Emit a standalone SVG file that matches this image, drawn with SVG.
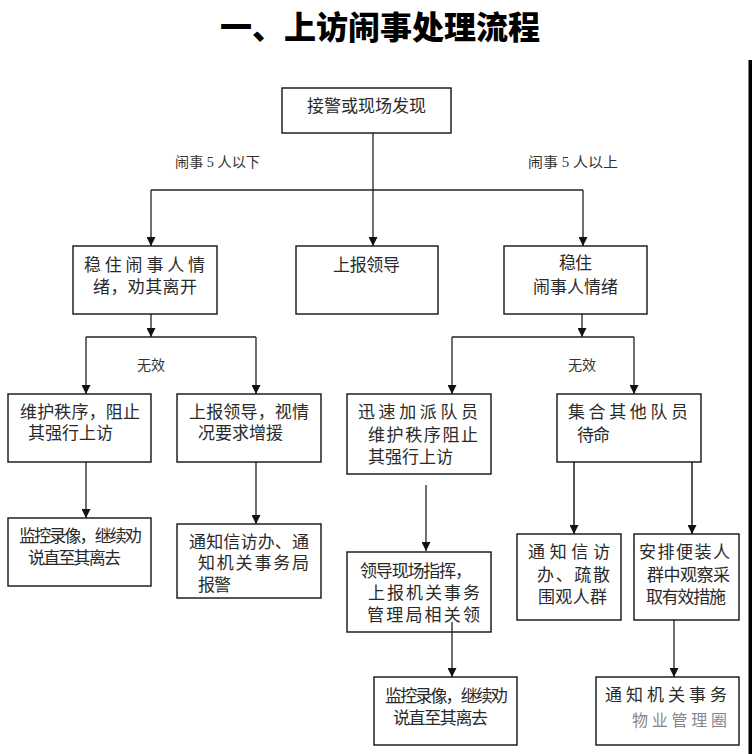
<svg xmlns="http://www.w3.org/2000/svg" width="752" height="754" viewBox="0 0 752 754">
<defs>
<style>
.bx{fill:#fff;stroke:#111;stroke-width:1.4}
.t{font-family:"Liberation Serif","Noto Sans CJK SC",serif;font-size:17px;fill:#2a2a2a}
.lb{font-family:"Liberation Serif","Noto Sans CJK SC",serif;font-size:14px;fill:#333}
.ttl{font-family:"Noto Sans CJK SC",sans-serif;font-size:32px;font-weight:900;fill:#000}
.c{fill:none;stroke:#222;stroke-width:1.3}
.cg{fill:none;stroke:#555;stroke-width:2}
.wm{font-family:"Noto Sans CJK SC",sans-serif;font-size:16px;fill:#888}
</style>
<marker id="ah" viewBox="0 0 10 10" refX="10" refY="5" markerWidth="9" markerHeight="9" markerUnits="userSpaceOnUse" orient="auto">
<path d="M0,0 L10,5 L0,10 Z" fill="#111"/>
</marker>
</defs>
<rect width="752" height="754" fill="#fff"/>
<rect x="748.5" y="60" width="3.5" height="694" fill="#000"/>
<text class="ttl" x="220" y="39" textLength="320" lengthAdjust="spacingAndGlyphs">一、上访闹事处理流程</text>

<g id="connectors">
<path class="c" d="M373,133 V246" marker-end="url(#ah)"/>
<path class="c" d="M151,190 H583"/>
<path class="c" d="M151,190 V246" marker-end="url(#ah)"/>
<path class="c" d="M583,190 V246" marker-end="url(#ah)"/>
<path class="c" d="M151,314 V337" marker-end="url(#ah)"/>
<path class="c" d="M86,337 H256"/>
<path class="c" d="M86,337 V394" marker-end="url(#ah)"/>
<path class="c" d="M256,337 V394" marker-end="url(#ah)"/>
<path class="c" d="M86,462 V518" marker-end="url(#ah)"/>
<path class="c" d="M256,462 V524" marker-end="url(#ah)"/>
<path class="c" d="M582,314 V337" marker-end="url(#ah)"/>
<path class="c" d="M452,337 H634"/>
<path class="c" d="M452,337 V394" marker-end="url(#ah)"/>
<path class="c" d="M634,337 V394" marker-end="url(#ah)"/>
<path class="c" d="M426,485 V551" marker-end="url(#ah)"/>
<path class="cg" d="M574,462 V534" marker-end="url(#ah)"/>
<path class="cg" d="M692,462 V534" marker-end="url(#ah)"/>
<path class="c" d="M674,620 V677" marker-end="url(#ah)"/>
</g>

<g id="labels">
<text class="lb" x="175" y="167" textLength="85" lengthAdjust="spacingAndGlyphs">闹事 5 人以下</text>
<text class="lb" x="528" y="167" textLength="90" lengthAdjust="spacingAndGlyphs">闹事 5 人以上</text>
<text class="lb" x="137" y="370" textLength="28">无效</text>
<text class="lb" x="568" y="370" textLength="28">无效</text>
</g>

<g id="n-start">
<rect class="bx" x="282" y="88" width="169" height="45"/>
<text class="t" x="307" y="112" textLength="119">接警或现场发现</text>
</g>

<g id="n-calm1">
<rect class="bx" x="73" y="246" width="144" height="68"/>
<text class="t" x="84" y="271" textLength="121">稳住闹事人情</text>
<text class="t" x="93" y="293" textLength="104">绪，劝其离开</text>
</g>

<g id="n-report">
<rect class="bx" x="296" y="246" width="142" height="68"/>
<text class="t" x="333" y="271" textLength="67">上报领导</text>
</g>

<g id="n-calm2">
<rect class="bx" x="504" y="246" width="143" height="68"/>
<text class="t" x="559" y="269" textLength="33">稳住</text>
<text class="t" x="533" y="293" textLength="85">闹事人情绪</text>
</g>

<g id="n-order1">
<rect class="bx" x="8" y="394" width="143" height="68"/>
<text class="t" x="20" y="418" textLength="120">维护秩序，阻止</text>
<text class="t" x="28" y="439" textLength="85">其强行上访</text>
</g>

<g id="n-report2">
<rect class="bx" x="177" y="394" width="144" height="68"/>
<text class="t" x="189" y="418" textLength="120">上报领导，视情</text>
<text class="t" x="198" y="439" textLength="85">况要求增援</text>
</g>

<g id="n-monitor1">
<rect class="bx" x="8" y="518" width="143" height="68"/>
<text class="t" x="19" y="542" textLength="123">监控录像，继续劝</text>
<text class="t" x="28" y="564" textLength="93">说直至其离去</text>
</g>

<g id="n-notify1">
<rect class="bx" x="177" y="524" width="144" height="74"/>
<text class="t" x="189" y="548" textLength="120">通知信访办、通</text>
<text class="t" x="198" y="569" textLength="111">知机关事务局</text>
<text class="t" x="198" y="591" textLength="33">报警</text>
</g>

<g id="n-dispatch">
<rect class="bx" x="347" y="394" width="144" height="80"/>
<text class="t" x="358" y="418" textLength="120">迅速加派队员</text>
<text class="t" x="368" y="441" textLength="110">维护秩序阻止</text>
<text class="t" x="368" y="463" textLength="85">其强行上访</text>
</g>

<g id="n-gather">
<rect class="bx" x="557" y="394" width="144" height="68"/>
<text class="t" x="568" y="418" textLength="120">集合其他队员</text>
<text class="t" x="577" y="441" textLength="33">待命</text>
</g>

<g id="n-lead">
<rect class="bx" x="347" y="552" width="144" height="80"/>
<text class="t" x="360" y="577" textLength="112">领导现场指挥，</text>
<text class="t" x="368" y="599" textLength="112">上报机关事务</text>
<text class="t" x="367" y="621" textLength="113">管理局相关领</text>
</g>
<path class="c" d="M452,622 V677" marker-end="url(#ah)"/>

<g id="n-notify2">
<rect class="bx" x="517" y="534" width="104" height="86"/>
<text class="t" x="528" y="558" textLength="82">通知信访</text>
<text class="t" x="537" y="581" textLength="73">办、疏散</text>
<text class="t" x="538" y="603" textLength="69">围观人群</text>
</g>

<g id="n-plain">
<rect class="bx" x="634" y="534" width="105" height="86"/>
<text class="t" x="639" y="558" textLength="91">安排便装人</text>
<text class="t" x="647" y="581" textLength="83">群中观察采</text>
<text class="t" x="646" y="603" textLength="80">取有效措施</text>
</g>

<g id="n-monitor2">
<rect class="bx" x="374" y="677" width="143" height="68"/>
<text class="t" x="385" y="702" textLength="123">监控录像，继续劝</text>
<text class="t" x="393" y="724" textLength="95">说直至其离去</text>
</g>

<g id="n-notify3">
<rect class="bx" x="596" y="677" width="143" height="68"/>
<text class="t" x="605" y="701" textLength="122">通知机关事务</text>
<text class="wm" x="632" y="726" textLength="95">物业管理圈</text>
</g>
</svg>
